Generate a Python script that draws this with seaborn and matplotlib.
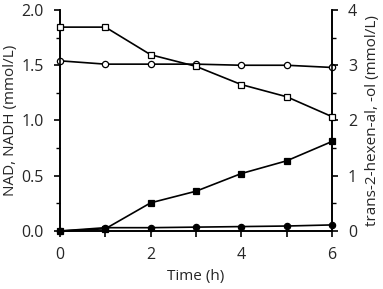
"""Time course of NAD/NADH and trans-2-hexen-al/-ol"""

import seaborn as sns
import matplotlib.pyplot as plt
from matplotlib.ticker import MultipleLocator

time_h = [0, 1, 2, 3, 4, 5, 6]
# left axis (mmol/L)
nad = [1.54, 1.51, 1.51, 1.51, 1.50, 1.50, 1.48]
nadh = [0.0, 0.03, 0.03, 0.035, 0.04, 0.045, 0.055]
# right axis (mmol/L)
hexenal = [3.69, 3.69, 3.19, 2.98, 2.65, 2.43, 2.07]
hexenol = [0.0, 0.04, 0.51, 0.72, 1.04, 1.27, 1.62]

sns.set_style("ticks")
plt.rcParams["font.family"] = ["Open Sans", "DejaVu Sans"]
plt.rcParams["font.size"] = 11

fig = plt.figure(figsize=(3.83, 2.89), dpi=100)
ax = fig.add_axes([0.1567, 0.2007, 0.7101, 0.7647])
ax2 = ax.twinx()

style = dict(color="black", markeredgecolor="black", markersize=4.5,
             linewidth=1.2, markeredgewidth=0.9, clip_on=False, zorder=3)

sns.lineplot(x=time_h, y=nad, ax=ax, marker="o", markerfacecolor="white", **style)
sns.lineplot(x=time_h, y=nadh, ax=ax, marker="o", markerfacecolor="black", **style)
sns.lineplot(x=time_h, y=hexenal, ax=ax2, marker="s", markerfacecolor="white", **style)
sns.lineplot(x=time_h, y=hexenol, ax=ax2, marker="s", markerfacecolor="black", **style)

ax.set_xlim(0, 6)
ax.set_ylim(0, 2)
ax2.set_ylim(0, 4)

ax.set_xticks(time_h)
ax.set_xticklabels([str(t) if t % 2 == 0 else "" for t in time_h])
ax.yaxis.set_major_locator(MultipleLocator(0.5))
ax.yaxis.set_minor_locator(MultipleLocator(0.25))
ax.yaxis.set_major_formatter(plt.FormatStrFormatter("%.1f"))
ax2.yaxis.set_major_locator(MultipleLocator(1))
ax2.yaxis.set_minor_locator(MultipleLocator(0.5))

for a in (ax, ax2):
    a.spines["top"].set_visible(False)
    for s in a.spines.values():
        s.set_linewidth(1.2)
        s.set_color("black")
    a.tick_params(which="major", length=4.5, width=1.2, color="black", labelsize=11.5, pad=7)
    a.tick_params(which="minor", length=3, width=1.0, color="black")

ax.set_xlabel("Time (h)", fontsize=11, labelpad=4)
ax.set_ylabel("NAD, NADH (mmol/L)", fontsize=11, labelpad=3)
ax2.set_ylabel("trans-2-hexen-al, -ol (mmol/L)", fontsize=11, labelpad=6)

plt.savefig("out.png", dpi=100)
plt.close()
